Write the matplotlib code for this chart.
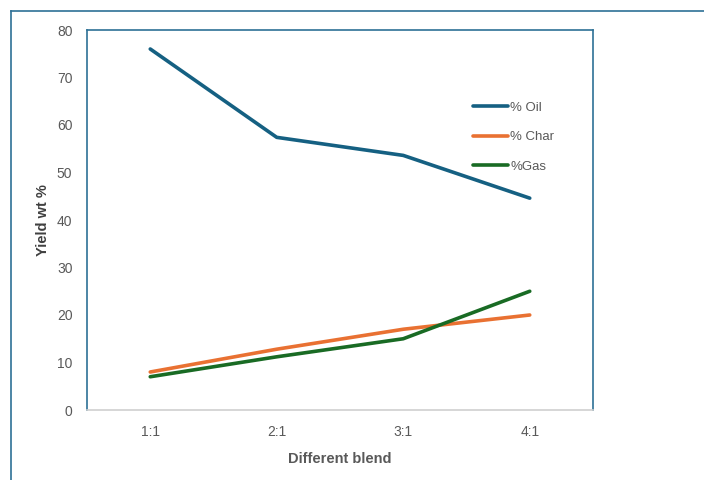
import matplotlib.pyplot as plt
from matplotlib.lines import Line2D

blends = ['1:1', '2:1', '3:1', '4:1']
oil = [76.0, 57.4, 53.6, 44.6]
char = [8.0, 12.8, 17.0, 20.0]
gas = [7.0, 11.2, 15.0, 25.0]

plt.rcParams['font.family'] = ['Liberation Sans', 'DejaVu Sans']

fig = plt.figure(figsize=(7.04, 4.8), dpi=100)
ax = fig.add_axes([87 / 704, 1 - 410 / 480, 506 / 704, 380 / 480])

x = range(len(blends))
ax.plot(x, oil, color='#156082', lw=2.6, label='% Oil', solid_capstyle='round')
ax.plot(x, char, color='#E97132', lw=2.6, label='% Char', solid_capstyle='round')
ax.plot(x, gas, color='#196B24', lw=2.6, label='%Gas', solid_capstyle='round')

ax.set_xlim(-0.5, 3.5)
ax.set_ylim(0, 80)
ax.set_yticks(range(0, 81, 10))
ax.set_xticks(list(x))
ax.set_xticklabels(blends)
ax.tick_params(length=0, labelsize=10, colors='#595959', pad=11)
ax.tick_params(axis='y', pad=10.5)

for side in ['left', 'top', 'right']:
    ax.spines[side].set_color('#2E7196')
    ax.spines[side].set_linewidth(1.2)
ax.spines['bottom'].set_color('#D0D0D0')
ax.spines['bottom'].set_linewidth(1.2)

ax.set_xlabel('Different blend', fontsize=10.5, fontweight='bold', color='#595959', labelpad=9)
ax.set_ylabel('Yield wt %', fontsize=10.5, fontweight='bold', color='#404040', labelpad=5)

leg = ax.legend(loc='upper left', bbox_to_anchor=(0.74, 0.843), frameon=False,
                fontsize=9.5, handlelength=2.6, handletextpad=0.2, labelspacing=1.32)
for t in leg.get_texts():
    t.set_color('#595959')

# outer chart border
fig.add_artist(Line2D([11 / 704, 11 / 704], [0, 1 - 11 / 480], transform=fig.transFigure,
                      color='#2E7196', lw=1.2))
fig.add_artist(Line2D([11 / 704, 1], [1 - 11 / 480, 1 - 11 / 480], transform=fig.transFigure,
                      color='#2E7196', lw=1.2))

fig.savefig('out.png', dpi=100)
